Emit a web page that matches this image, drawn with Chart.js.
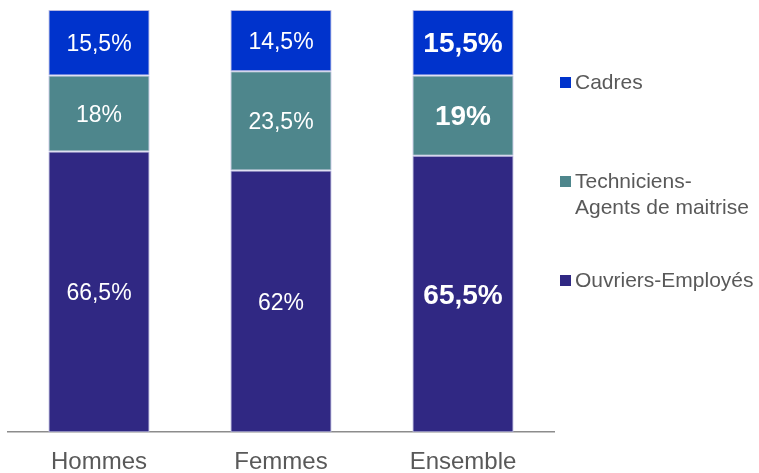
<!DOCTYPE html>
<html>
<head>
<meta charset="utf-8">
<script src="https://cdn.jsdelivr.net/npm/chart.js@4/dist/chart.umd.min.js"></script>
<style>
  html, body { margin: 0; padding: 0; background: #fff; }
  #wrap { position: relative; width: 759px; height: 473px; overflow: hidden; }
  #legend { position: absolute; left: 560px; top: 0; font-family: 'Liberation Sans', Arial, sans-serif; font-size: 21px; color: #595959; }
  .item { position: absolute; left: 0; white-space: nowrap; line-height: 26px; }
  .item .sw { position: absolute; left: 0; top: 8px; width: 11px; height: 11px; }
  .item .tx { margin-left: 15px; display: block; }
</style>
</head>
<body>
<div id="wrap">
  <canvas id="c" width="759" height="473"></canvas>
  <div id="legend"></div>
</div>
<script>
(function(){
    'use strict';

    var categories = ['Hommes', 'Femmes', 'Ensemble'];
    var ouvriers = [66.5, 62, 65.5];
    var techniciens = [18, 23.5, 19];
    var cadres = [15.5, 14.5, 15.5];
    var labelsOuvriers = ['66,5%', '62%', '65,5%'];
    var labelsTechniciens = ['18%', '23,5%', '19%'];
    var labelsCadres = ['15,5%', '14,5%', '15,5%'];
    var boldCategory = 'Ensemble';

    var font = "'Liberation Sans', Arial, sans-serif";

    var datasets = [
        { label: 'Ouvriers-Employés', data: ouvriers, texts: labelsOuvriers, backgroundColor: '#302883' },
        { label: 'Techniciens-\nAgents de maitrise', data: techniciens, texts: labelsTechniciens, backgroundColor: '#4E868C' },
        { label: 'Cadres', data: cadres, texts: labelsCadres, backgroundColor: '#0033CC' }
    ];
    datasets.forEach(function(d){
        d.borderColor = '#B8B8E0';
        d.borderWidth = 1;
        d.borderSkipped = false;
        d.barPercentage = 0.556;
        d.categoryPercentage = 1;
    });

    // valeurs dans les barres
    var valueLabels = {
        id: 'valueLabels',
        afterDatasetsDraw: function(chart){
            var ctx = chart.ctx;
            ctx.save();
            ctx.fillStyle = '#ffffff';
            ctx.textAlign = 'center';
            ctx.textBaseline = 'middle';
            chart.data.datasets.forEach(function(ds, i){
                chart.getDatasetMeta(i).data.forEach(function(bar, j){
                    var bold = categories[j] === boldCategory;
                    ctx.font = bold ? 'bold 28px ' + font : '23px ' + font;
                    ctx.fillText(ds.texts[j], bar.x, (bar.y + bar.base) / 2 + 2);
                });
            });
            ctx.restore();
        }
    };

    new Chart(document.getElementById('c'), {
        type: 'bar',
        data: { labels: categories, datasets: datasets },
        options: {
            responsive: false,
            animation: false,
            layout: { padding: { left: 8, right: 205, top: 10, bottom: -20 } },
            plugins: { legend: { display: false }, tooltip: { enabled: false } },
            scales: {
                x: {
                    stacked: true,
                    grid: { display: false, drawTicks: false },
                    border: { display: true, color: '#8C8C8C', width: 1.5 },
                    ticks: { color: '#595959', font: { family: font, size: 24 }, padding: 16 }
                },
                y: {
                    stacked: true,
                    display: false,
                    min: 0,
                    max: 100
                }
            }
        },
        plugins: [valueLabels]
    });

    // légende à droite
    var legendTops = [69, 168, 267];
    var legend = document.getElementById('legend');
    datasets.slice().reverse().forEach(function(ds, k){
        var item = document.createElement('div');
        item.className = 'item';
        item.style.top = legendTops[k] + 'px';
        var sw = document.createElement('span');
        sw.className = 'sw';
        sw.style.background = ds.backgroundColor;
        item.appendChild(sw);
        ds.label.split('\n').forEach(function(line){
            var t = document.createElement('span');
            t.className = 'tx';
            t.textContent = line;
            item.appendChild(t);
        });
        legend.appendChild(item);
    });

}());
</script>
</body>
</html>
